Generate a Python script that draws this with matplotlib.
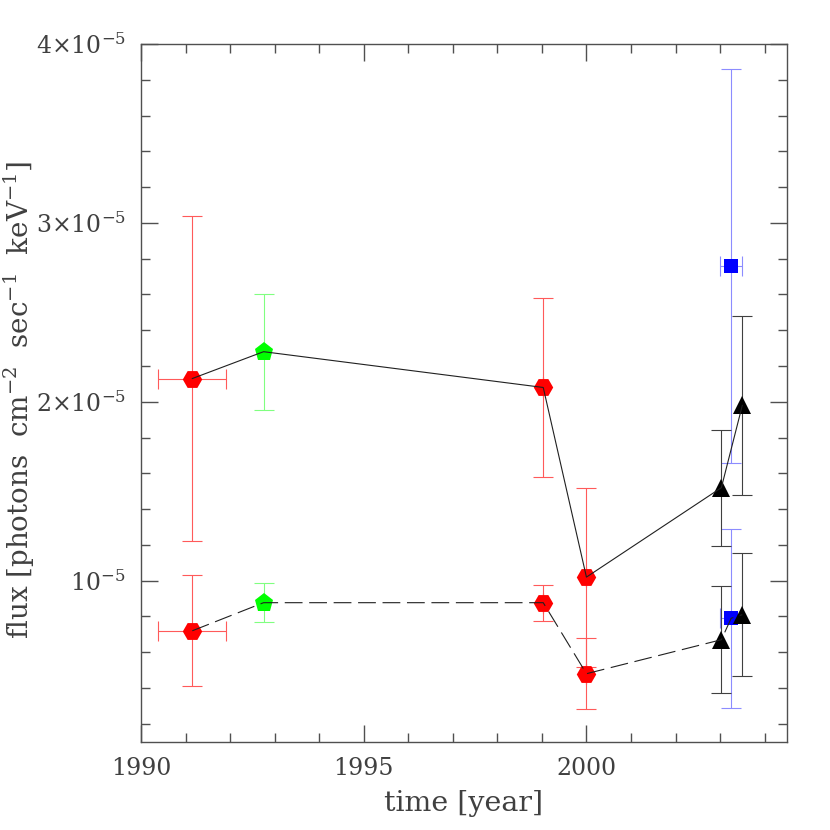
import matplotlib
matplotlib.use("Agg")
import matplotlib.pyplot as plt
import numpy as np
from matplotlib.ticker import FixedLocator, FixedFormatter, MultipleLocator

# ---- data (flux in photons cm^-2 s^-1 keV^-1) ----
red_t = [1991.15, 1999.03, 2000.0]
red_terr = [0.76, 0.0, 0.0]
red_hi = [2.13e-5, 2.08e-5, 1.02e-5]
red_hi_err = [0.91e-5, 0.50e-5, 0.50e-5]
red_lo = [0.72e-5, 0.877e-5, 0.48e-5]
red_lo_err = [0.31e-5, 0.10e-5, 0.20e-5]

green_t = [1992.75]
green_hi = [2.28e-5]
green_hi_err = [0.325e-5]
green_lo = [0.877e-5]
green_lo_err = [0.11e-5]

blue_t = [2003.25]
blue_terr = [0.24]
blue_hi = [2.76e-5]
blue_hi_err = [1.10e-5]
blue_lo = [0.79e-5]
blue_lo_err = [0.50e-5]

black_t = [2003.03, 2003.5]
black_hi = [1.52e-5, 1.98e-5]
black_hi_err = [0.325e-5, 0.50e-5]
black_lo = [0.67e-5, 0.81e-5]
black_lo_err = [0.30e-5, 0.345e-5]

yticks = [1e-5, 2e-5, 3e-5, 4e-5]
yticklabels = [r"$10^{-5}$", r"$2{\times}10^{-5}$", r"$3{\times}10^{-5}$", r"$4{\times}10^{-5}$"]
xticks = [1990, 1995, 2000]

plt.rcParams['font.family'] = ['DejaVu Serif']
plt.rcParams['mathtext.fontset'] = 'dejavuserif'
txt = '#404040'
frame = '#505050'

fig = plt.figure(figsize=(8.3, 8.3), dpi=100)
ax = fig.add_axes([0.170, 0.1064, 0.948 - 0.170, 0.947 - 0.1064])

ebkw = dict(fmt='none', elinewidth=0.8, capsize=7, capthick=0.8, zorder=2)

# error bars
ax.errorbar(red_t, red_hi, yerr=red_hi_err, xerr=red_terr, ecolor='#ff5a5a', **ebkw)
ax.errorbar(red_t, red_lo, yerr=red_lo_err, xerr=red_terr, ecolor='#ff5a5a', **ebkw)
ax.errorbar(green_t, green_hi, yerr=green_hi_err, ecolor='#80ff80', **ebkw)
ax.errorbar(green_t, green_lo, yerr=green_lo_err, ecolor='#80ff80', **ebkw)
ax.errorbar(blue_t, blue_hi, yerr=blue_hi_err, xerr=blue_terr, ecolor='#8c8cff', **ebkw)
ax.errorbar(blue_t, blue_lo, yerr=blue_lo_err, xerr=blue_terr, ecolor='#8c8cff', **ebkw)
ax.errorbar(black_t, black_hi, yerr=black_hi_err, ecolor='#404040', **ebkw)
ax.errorbar(black_t, black_lo, yerr=black_lo_err, ecolor='#404040', **ebkw)

# markers
mk = dict(linestyle='none', zorder=3, markeredgewidth=0)
ax.plot(red_t, red_hi, marker='H', markersize=14, color='#ff0000', **mk)
ax.plot(red_t, red_lo, marker='H', markersize=14, color='#ff0000', **mk)
ax.plot(green_t, green_hi, marker='p', markersize=14, color='#00ff00', **mk)
ax.plot(green_t, green_lo, marker='p', markersize=14, color='#00ff00', **mk)
ax.plot(blue_t, blue_hi, marker='s', markersize=10, color='#0000ff', **mk)
ax.plot(blue_t, blue_lo, marker='s', markersize=10, color='#0000ff', **mk)
ax.plot(black_t, black_hi, marker='^', markersize=13, color='#000000', **mk)
ax.plot(black_t, black_lo, marker='^', markersize=13, color='#000000', **mk)

# connecting lines
hi_t = [red_t[0], green_t[0], red_t[1], red_t[2], black_t[0], black_t[1]]
hi_f = [red_hi[0], green_hi[0], red_hi[1], red_hi[2], black_hi[0], black_hi[1]]
ax.plot(hi_t, hi_f, color='#202020', linewidth=0.8, zorder=4)

lo_t = [red_t[0], green_t[0], red_t[1], red_t[2], black_t[0], blue_t[0], black_t[1]]
lo_f = [red_lo[0], green_lo[0], red_lo[1], red_lo[2], black_lo[0], blue_lo[0], black_lo[1]]
ax.plot(lo_t, lo_f, color='#202020', linewidth=0.8, dashes=(16, 6), zorder=4)

ax.set_xlim(1990, 2004.5)
ax.set_ylim(0.1e-5, 4e-5)

ax.xaxis.set_major_locator(FixedLocator(xticks))
ax.xaxis.set_minor_locator(MultipleLocator(1))
ax.yaxis.set_major_locator(FixedLocator(yticks))
ax.yaxis.set_major_formatter(FixedFormatter(yticklabels))
ax.yaxis.set_minor_locator(MultipleLocator(0.2e-5))

ax.tick_params(which='both', direction='in', top=True, right=True, color=frame,
               labelcolor=txt, labelsize=17, width=1.0)
ax.tick_params(which='major', length=12.5)
ax.tick_params(which='minor', length=6.2)
ax.tick_params(axis='x', pad=11)
ax.tick_params(axis='y', pad=11)

for s in ax.spines.values():
    s.set_color(frame)
    s.set_linewidth(1.0)

fig.text(464 / 830, 1 - 803 / 830, 'time [year]', fontsize=20.5, color=txt,
         ha='center', va='center')
fig.text(19 / 830, 1 - 400 / 830, r'flux [photons  cm$^{-2}$  sec$^{-1}$  keV$^{-1}$]',
         fontsize=20, color=txt, ha='center', va='center', rotation=90)

fig.savefig('out.png', dpi=100)
